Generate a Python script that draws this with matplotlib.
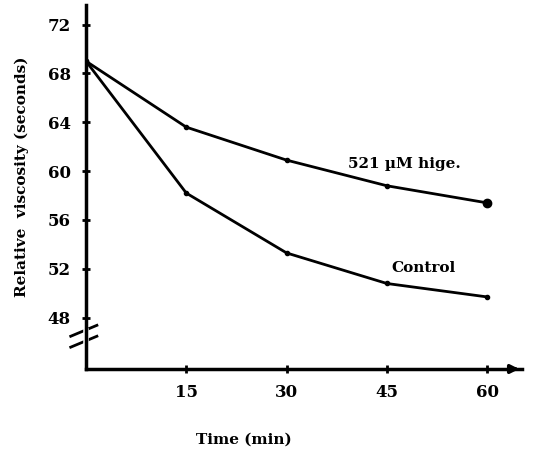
import matplotlib
matplotlib.use("Agg")
import matplotlib.pyplot as plt

time_min = [0, 15, 30, 45, 60]
hige = [69.0, 63.6, 60.9, 58.8, 57.4]
control = [69.0, 58.2, 53.3, 50.8, 49.7]
xticks = [15, 30, 45, 60]
yticks = [48, 52, 56, 60, 64, 68, 72]

fig = plt.figure(figsize=(5.33, 4.53), dpi=100)
ax = fig.add_axes([86/533, 1-369/453, (522-86)/533, (369-5)/453])
ax.set_xlim(0, 65.2)
ax.set_ylim(43.8, 73.6)

font = dict(family="DejaVu Serif", weight="bold")

ax.plot(time_min, hige, color="black", lw=2.0, marker="o", ms=3)
ax.plot(time_min, control, color="black", lw=2.0, marker="o", ms=3)
ax.plot([time_min[-1]], [hige[-1]], "o", color="black", ms=6)

for s in ["top", "right"]:
    ax.spines[s].set_visible(False)
for s in ["left", "bottom"]:
    ax.spines[s].set_linewidth(2.5)

ax.set_xticks(xticks)
ax.set_xticklabels([str(v) for v in xticks], fontsize=12, **font)
ax.set_yticks(yticks)
ax.set_yticklabels([str(v) for v in yticks], fontsize=12, **font)
ax.tick_params(direction="inout", length=6, width=2, pad=8)

# arrow on x-axis
ax.annotate("", xy=(1.0, 0), xycoords="axes fraction", xytext=(0.97, 0),
            arrowprops=dict(arrowstyle="-|>", color="black", lw=2.5, mutation_scale=12),
            annotation_clip=False)

# axis break marks
for yy in [0.075, 0.105]:
    ax.plot([-0.035, 0.025], [yy - 0.015, yy + 0.015], transform=ax.transAxes,
            color="black", lw=2, clip_on=False)
ax.plot([0, 0], [0.075, 0.105], transform=ax.transAxes, color="white", lw=4, clip_on=False)

ax.text(39.2, 60.6, "521 \u00b5M hige.", fontsize=11, ha="left", va="center", **font)
ax.text(45.7, 52.1, "Control", fontsize=11, ha="left", va="center", **font)

fig.text(22/533, 1-177/453, "Relative  viscosity (seconds)", rotation=90,
         ha="center", va="center", fontsize=11, **font)
fig.text(244/533, 1-440/453, "Time (min)", ha="center", va="center", fontsize=11, **font)

fig.savefig("out.png", dpi=100)
